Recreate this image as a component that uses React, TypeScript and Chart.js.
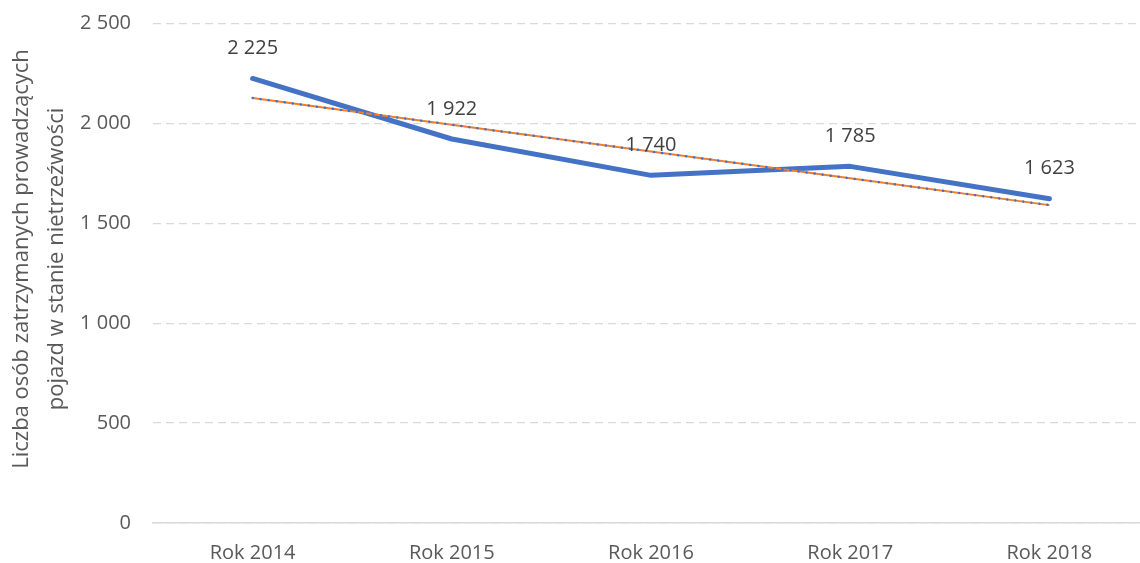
import React, { useEffect, useRef } from "react";
import { Chart, registerables } from "chart.js";

Chart.register(...registerables);

const categories: string[] = ["Rok 2014", "Rok 2015", "Rok 2016", "Rok 2017", "Rok 2018"];
const values: number[] = [2225, 1922, 1740, 1785, 1623];
const trendValues: number[] = [2127, 1993, 1859, 1725, 1591];
const yTitle: string[] = ["Liczba osób zatrzymanych prowadzących", "pojazd w stanie nietrzeźwości"];

const FONT = "'Open Sans', sans-serif";
const BLUE = "#4472C4";
const ORANGE = "#ED7D31";

function fmt(v: number): string {
  const s = Math.round(v).toString();
  return s.replace(/\B(?=(\d{3})+(?!\d))/g, " ");
}

const dataLabels = {
  id: "dataLabels",
  afterDatasetsDraw(chart: any) {
    const idx = chart.data.datasets.findIndex((d: any) => d.label === "main");
    const meta = chart.getDatasetMeta(idx);
    const ctx = chart.ctx;
    ctx.save();
    ctx.font = `20px ${FONT}`;
    ctx.fillStyle = "#404040";
    ctx.textAlign = "center";
    ctx.textBaseline = "middle";
    meta.data.forEach((pt: any, i: number) => {
      ctx.fillText(fmt(values[i]), pt.x, pt.y - 30);
    });
    ctx.restore();
  },
};

const axisTitle = {
  id: "axisTitle",
  afterDraw(chart: any) {
    const ctx = chart.ctx;
    ctx.save();
    ctx.font = `22px ${FONT}`;
    ctx.fillStyle = "#595959";
    ctx.textAlign = "center";
    ctx.textBaseline = "middle";
    const cy = 259;
    yTitle.forEach((line, i) => {
      ctx.save();
      ctx.translate(22 + i * 34.5, cy);
      ctx.rotate(-Math.PI / 2);
      ctx.fillText(line, 0, 0);
      ctx.restore();
    });
    ctx.restore();
  },
};

export default function App() {
  const ref = useRef<HTMLCanvasElement>(null);
  useEffect(() => {
    if (!ref.current) return;
    const chart = new Chart(ref.current, {
      type: "line",
      data: {
        labels: categories,
        datasets: [
          {
            label: "main",
            data: values,
            borderColor: BLUE,
            borderWidth: 5,
            borderCapStyle: "round",
            borderJoinStyle: "round",
            pointRadius: 0,
            tension: 0,
            order: 3,
          },
          {
            label: "trend",
            data: trendValues,
            borderColor: ORANGE,
            borderWidth: 2,
            pointRadius: 0,
            order: 2,
          },
          {
            label: "trendDots",
            data: trendValues,
            borderColor: BLUE,
            borderWidth: 2.5,
            borderDash: [0.1, 8],
            borderCapStyle: "round",
            pointRadius: 0,
            order: 1,
          },
        ],
      },
      options: {
        animation: false,
        responsive: false,
        layout: { padding: { top: 23.5, left: 0, right: 0, bottom: 0 } },
        plugins: { legend: { display: false }, tooltip: { enabled: false } },
        scales: {
          x: {
            offset: true,
            grid: { display: false, drawTicks: false },
            border: { display: true, color: "#D9D9D9", width: 1.5 },
            ticks: { color: "#595959", font: { family: FONT, size: 20 }, padding: 18 },
            afterFit(scale: any) {
              scale.height = 40;
              scale.paddingLeft = 0;
              scale.paddingRight = 0;
            },
          },
          y: {
            min: 0,
            max: 2500,
            grid: { color: "#D9D9D9", lineWidth: 1.3, drawTicks: false },
            border: { display: false, dash: [8, 5] },
            ticks: {
              stepSize: 500,
              color: "#595959",
              font: { family: FONT, size: 20 },
              padding: 22,
              callback: (v: any) => fmt(Number(v)),
            },
            afterFit(scale: any) {
              scale.width = 153;
              scale.paddingTop = 0;
              scale.paddingBottom = 0;
            },
          },
        },
      },
      plugins: [dataLabels, axisTitle],
    });
    return () => chart.destroy();
  }, []);
  return (
    <div style={{ position: "absolute", left: 0, top: 0, width: 1140, height: 563, overflow: "hidden", background: "#fff" }}>
      <canvas ref={ref} width={1149} height={563} style={{ width: 1149, height: 563, display: "block" }} />
    </div>
  );
}
